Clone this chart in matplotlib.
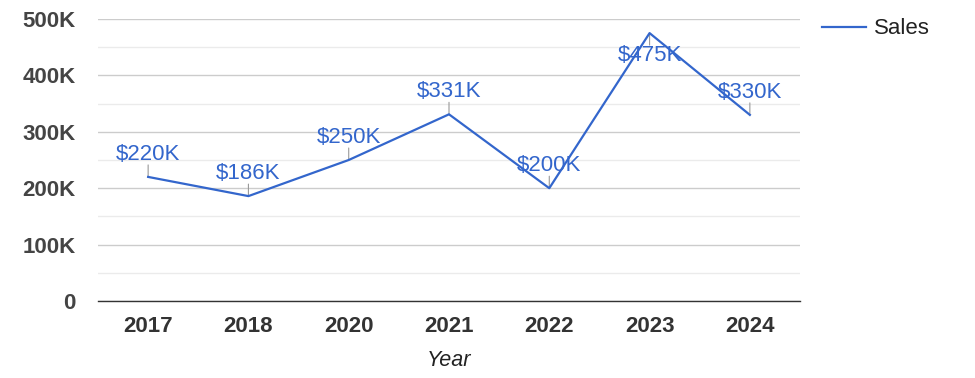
import matplotlib
matplotlib.use("Agg")
import matplotlib.pyplot as plt
from matplotlib.ticker import FuncFormatter, MultipleLocator

years = ["2017", "2018", "2020", "2021", "2022", "2023", "2024"]
sales = [220000, 186000, 250000, 331000, 200000, 475000, 330000]
labels = ["$220K", "$186K", "$250K", "$331K", "$200K", "$475K", "$330K"]
label_below = [False, False, False, False, False, True, False]

plt.rcParams['font.family'] = ['Liberation Sans', 'DejaVu Sans']

W, H = 975, 378
fig = plt.figure(figsize=(W / 100, H / 100), dpi=100)
ax = fig.add_axes([98 / W, 1 - 301 / H, 702 / W, 282 / H])

blue = "#3366CC"
x = list(range(len(years)))
ax.plot(x, sales, color=blue, lw=1.6, zorder=5, label="Sales")

for i, (v, lab, below) in enumerate(zip(sales, labels, label_below)):
    sign = -1 if below else 1
    ax.annotate("", xy=(i, v), xytext=(0, sign * 12), textcoords="offset pixels",
                arrowprops=dict(arrowstyle="-", color="#999999", lw=0.8,
                                shrinkA=0, shrinkB=0), zorder=3)
    ax.annotate(lab, xy=(i, v), xytext=(0, sign * 12), textcoords="offset pixels",
                ha="center", va="top" if below else "bottom",
                color=blue, fontsize=16, zorder=4)

ax.set_xlim(-0.5, len(years) - 0.5)
ax.set_ylim(0, 500000)
ax.set_xticks(x)
ax.set_xticklabels(years, fontsize=16, fontweight="bold", color="#333333")
ax.yaxis.set_major_locator(MultipleLocator(100000))
ax.yaxis.set_minor_locator(MultipleLocator(50000))
ax.yaxis.set_major_formatter(FuncFormatter(lambda v, p: "0" if v == 0 else f"{int(v/1000)}K"))
for t in ax.get_yticklabels():
    t.set_fontsize(16)
    t.set_fontweight("bold")
    t.set_color("#444444")
ax.tick_params(axis="y", which="both", length=0, pad=16)
ax.tick_params(axis="x", length=0, pad=11)
ax.grid(axis="y", which="major", color="#cccccc", lw=1)
ax.grid(axis="y", which="minor", color="#ebebeb", lw=1)
ax.set_axisbelow(True)
for s in ["top", "right", "left"]:
    ax.spines[s].set_visible(False)
ax.spines["bottom"].set_color("#333333")
ax.spines["bottom"].set_linewidth(1)
ax.spines["bottom"].set_zorder(6)

ax.set_xlabel("Year", fontsize=15.5, style="italic", color="#222222", labelpad=9)

leg = fig.legend(handles=ax.get_lines()[:1], labels=["Sales"], loc="center left",
                 bbox_to_anchor=(822 / W, 1 - 29 / H), frameon=False,
                 fontsize=16, handlelength=2.0, handletextpad=0.36,
                 borderpad=0, borderaxespad=0)
for t in leg.get_texts():
    t.set_color("#222222")

fig.savefig("out.png", dpi=100)
